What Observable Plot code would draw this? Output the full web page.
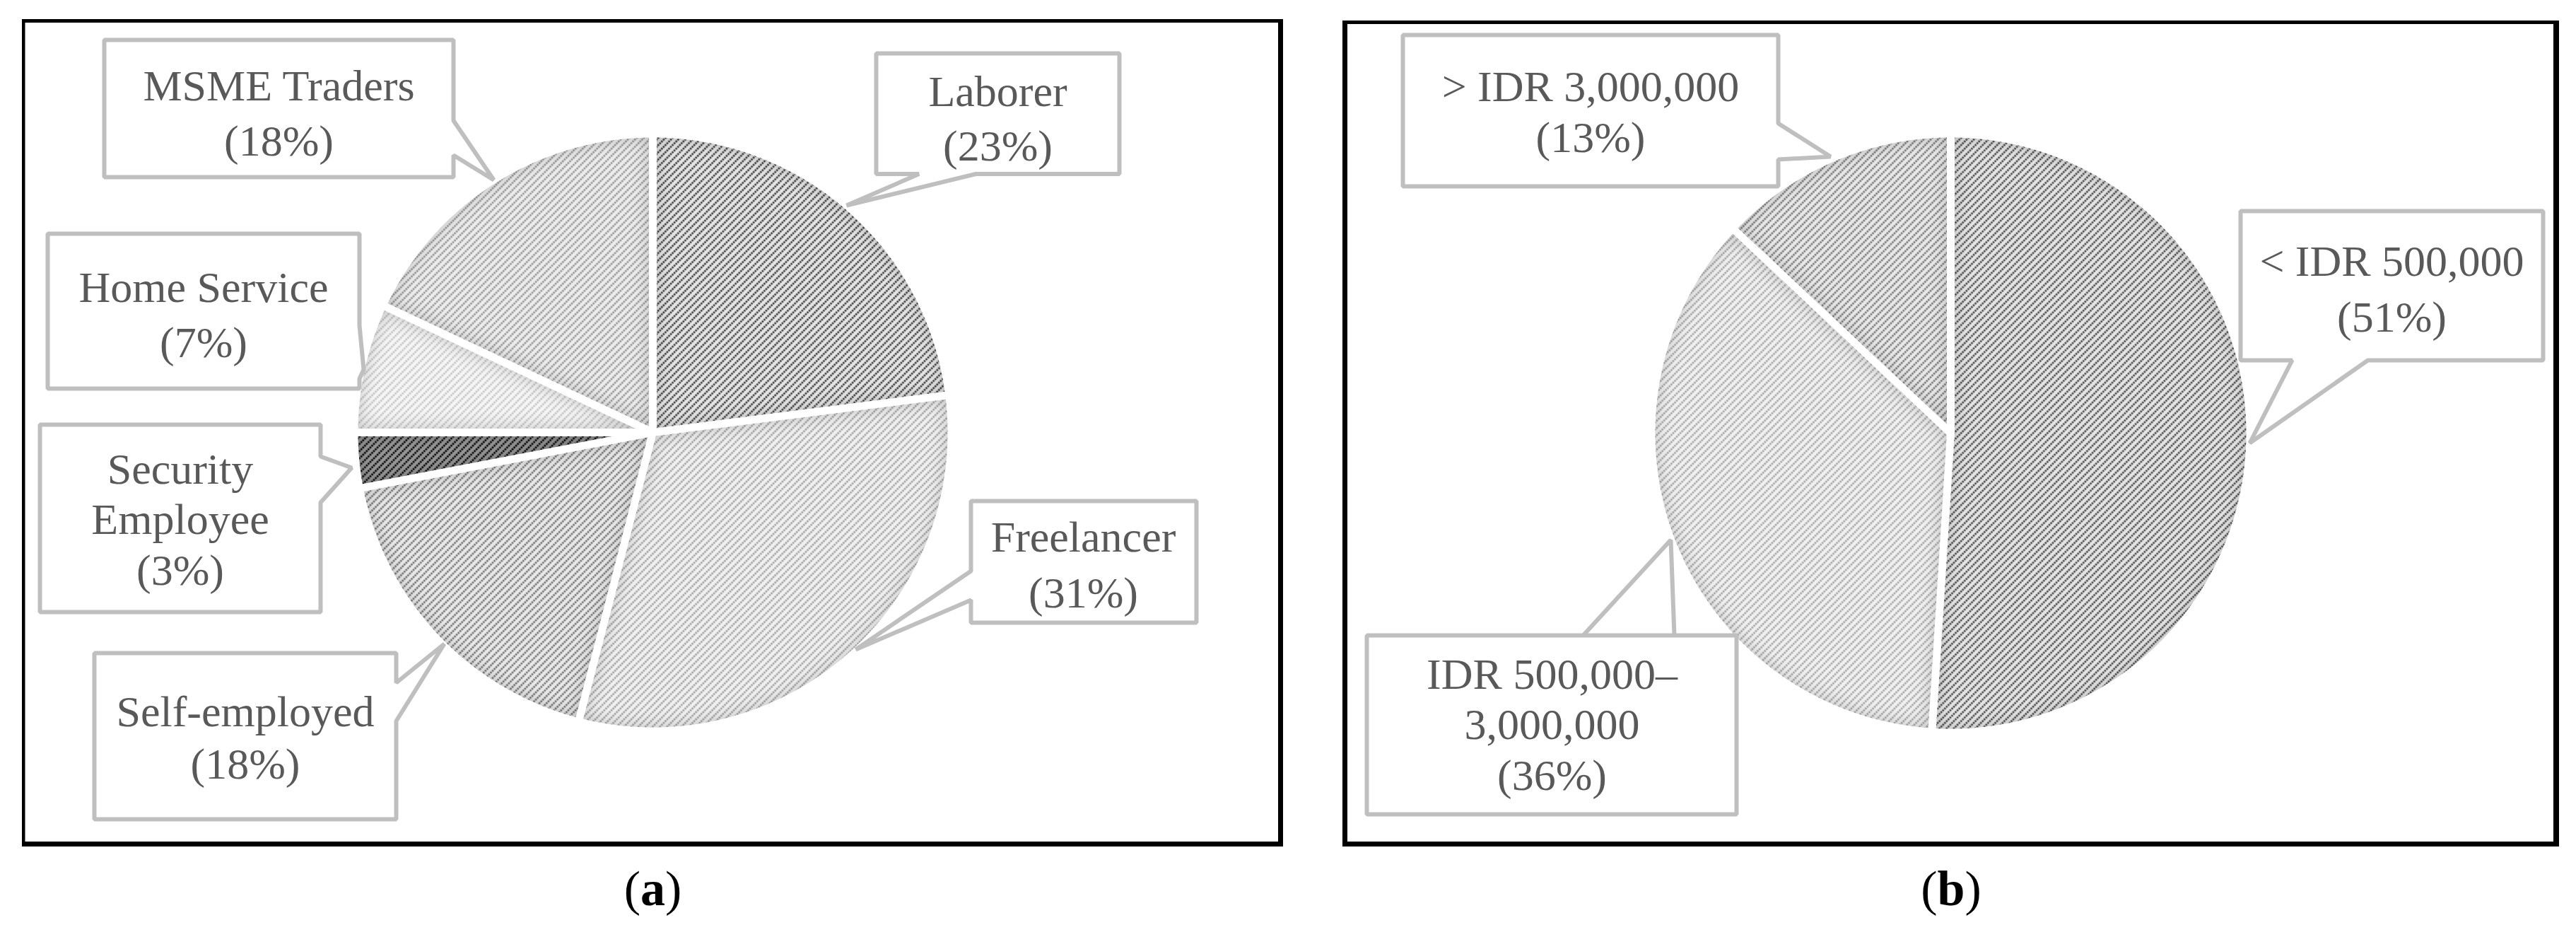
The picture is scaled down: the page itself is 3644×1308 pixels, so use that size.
<!DOCTYPE html>
<html>
<head>
<meta charset="utf-8">
<script src="https://cdn.jsdelivr.net/npm/d3@7"></script>
<script src="https://cdn.jsdelivr.net/npm/@observablehq/plot@0.6"></script>
<style>
  html, body { margin: 0; padding: 0; background: #fff; }
  #chart svg { display: block; }
</style>
</head>
<body>
<div id="chart"></div>
<script>
// ---------------- DATA ----------------
const occupations = ["Laborer", "Freelancer", "Self-employed", "Security Employee", "Home Service", "MSME Traders"];
const occupationShares = [23, 31, 18, 3, 7, 18];
const incomeGroups = ["< IDR 500,000", "IDR 500,000–3,000,000", "> IDR 3,000,000"];
const incomeShares = [51, 36, 13];
const panelLetters = ["a", "b"];

// ---------------- LAYOUT / STYLE ----------------
const W = 3644, H = 1308;
const FONT = "'Liberation Serif', 'Times New Roman', Times, serif";
const LABEL_SIZE = 62;
const panels = [
  {x0: 31, y0: 27, x1: 1815, y1: 1197, cx: 923, cy: 611, r: 417, inset: {t: 5, r: 7, b: 7, l: 4.5}},
  {x0: 1899, y0: 29, x1: 3620, y1: 1197, cx: 2759, cy: 612, r: 418, inset: {t: 5, r: 8, b: 7, l: 7}}
];
const captionBaseline = 1279;
const sliceGap = 11;

// pattern styles (stripe colour, background colour) per slice, in category order
const stylesA = [
  {stripe: "#4a4a4a", bg: "#e4e4e4"},
  {stripe: "#a8a8a8", bg: "#f0f0f0"},
  {stripe: "#7c7c7c", bg: "#e8e8e8"},
  {stripe: "#151515", bg: "#969696"},
  {stripe: "#c8c8c8", bg: "#f5f5f5"},
  {stripe: "#9c9c9c", bg: "#ececec"}
];
const stylesB = [
  {stripe: "#555555", bg: "#e4e4e4"},
  {stripe: "#ababab", bg: "#f0f0f0"},
  {stripe: "#808080", bg: "#e8e8e8"}
];

// callout boxes (box = [x0,y0,x1,y1]), pointer wedge, text anchor (centre x, last baseline, line height)
const calloutsA = [
  {box: [1239, 75, 1583, 245.5], side: "bottom", base: [1299.5, 1380], tip: [1197, 290], tx: 1411, ty: 226, lh: 76.5},
  {box: [1373, 708, 1692, 880], side: "left", base: [807, 848], tip: [1210, 918], tx: 1532, ty: 858, lh: 78.5},
  {box: [133, 923, 560, 1158], side: "right", base: [965, 1019], tip: [628, 910], tx: 346.5, ty: 1100, lh: 74},
  {box: [56, 600, 453, 865], side: "right", base: [645, 710], tip: [497, 661], tx: 254.5, ty: 826, lh: 71.5, brk: " "},
  {box: [67, 330, 508, 549], side: "right", base: [460, 535], tip: [514, 522], tx: 287.5, ty: 504.5, lh: 78},
  {box: [147, 56, 641, 250], side: "right", base: [170, 219], tip: [698, 254], tx: 394, ty: 219, lh: 78}
];
const calloutsB = [
  {box: [3169, 298, 3597, 509], side: "bottom", base: [3242, 3349], tip: [3182, 626], tx: 3383, ty: 468, lh: 79},
  {box: [1933, 898, 2456, 1151], side: "top", base: [2239, 2368], tip: [2363, 763], tx: 2195, ty: 1116, lh: 71.5, brk: "–"},
  {box: [1984, 49, 2515, 263], side: "right", base: [174, 225], tip: [2589, 221], tx: 2249.5, ty: 214, lh: 71.5}
];

// ---------------- GEOMETRY ----------------
function slicePoints(cx, cy, r, a0, a1, gap) {
  const half = (a1 - a0) / 2, mid = (a0 + a1) / 2, h = gap / 2;
  const P = (rad, ang) => [cx + rad * Math.sin(ang), cy - rad * Math.cos(ang)];
  const d = h / Math.sin(half);
  const delta = Math.asin(h / r);
  const s = a0 + delta, e = a1 - delta;
  const n = Math.max(2, Math.ceil((e - s) / (Math.PI / 360)));
  const pts = [P(d, mid)];
  for (let i = 0; i <= n; i++) pts.push(P(r, s + (e - s) * i / n));
  pts.push(P(d, mid));
  return pts;
}
function calloutPoints(c) {
  const [x0, y0, x1, y1] = c.box, [b1, b2] = c.base, t = c.tip, mx = (x0 + x1) / 2;
  let p;
  switch (c.side) {
    case "right": p = [[mx, y0], [x1, y0], [x1, b1], t, [x1, b2], [x1, y1], [x0, y1], [x0, y0]]; break;
    case "left": p = [[mx, y0], [x1, y0], [x1, y1], [x0, y1], [x0, b2], t, [x0, b1], [x0, y0]]; break;
    case "bottom": p = [[mx, y0], [x1, y0], [x1, y1], [b2, y1], t, [b1, y1], [x0, y1], [x0, y0]]; break;
    case "top": p = [[mx, y0], [x1, y0], [x1, y1], [x0, y1], [x0, y0], [b1, y0], t, [b2, y0]]; break;
  }
  p.push(p[0]);
  return p;
}

const pies = [
  {names: occupations, values: occupationShares, styles: stylesA, callouts: calloutsA},
  {names: incomeGroups, values: incomeShares, styles: stylesB, callouts: calloutsB}
];

const sliceRows = [], calloutRows = [], labelMarks = [];
pies.forEach((pie, pi) => {
  const P = panels[pi];
  const arcs = d3.pie().sort(null).value(d => d)(pie.values);
  arcs.forEach((a, i) => {
    const key = `p${pi}-${i}`;
    for (const [x, y] of slicePoints(P.cx, P.cy, P.r, a.startAngle, a.endAngle, sliceGap))
      sliceRows.push({key, x, y, fill: `url(#pat-${key})`});
    const c = pie.callouts[i];
    for (const [x, y] of calloutPoints(c)) calloutRows.push({key, x, y});
    let name = pie.names[i];
    if (c.brk) name = name.replace(c.brk, c.brk.trim() + "\n");
    labelMarks.push(Plot.text([{x: c.tx, y: c.ty, t: `${name}\n(${pie.values[i]}%)`}], {
      x: "x", y: "y", text: "t", textAnchor: "middle", lineAnchor: "bottom",
      lineHeight: c.lh / LABEL_SIZE, fontSize: LABEL_SIZE, fontFamily: FONT, fill: "#595959"
    }));
  });
});

const svg = Plot.plot({
  width: W, height: H,
  margin: 0,
  x: {domain: [0, W], range: [0, W], axis: null},
  y: {domain: [0, H], range: [0, H], axis: null},
  color: {type: "identity"},
  style: "background:#fff;max-width:none;overflow:visible;",
  marks: [
    Plot.rect(panels, {x1: "x0", x2: "x1", y1: "y0", y2: "y1", fill: "#000"}),
    Plot.rect(panels, {x1: d => d.x0 + d.inset.l, x2: d => d.x1 - d.inset.r, y1: d => d.y0 + d.inset.t, y2: d => d.y1 - d.inset.b, fill: "#fff"}),
    Plot.line(sliceRows, {x: "x", y: "y", z: "key", fill: "fill", stroke: "none", curve: "linear"}),
    Plot.line(calloutRows, {x: "x", y: "y", z: "key", fill: "#fff", stroke: "#bfbfbf", strokeWidth: 6, strokeLinejoin: "miter", curve: "linear"}),
    ...labelMarks,
    Plot.text(panels, {x: d => (d.x0 + d.x1) / 2, y: () => captionBaseline, text: (d, i) => `(${panelLetters[i]})`,
      textAnchor: "middle", lineAnchor: "bottom", fontSize: 70, fontFamily: FONT, fill: "#000"})
  ]
});

// patterns and soft inner shading
const defs = d3.select(svg).insert("defs", ":first-child");
pies.forEach((pie, pi) => {
  pie.styles.forEach((s, i) => {
    const pat = defs.append("pattern")
      .attr("id", `pat-p${pi}-${i}`)
      .attr("patternUnits", "userSpaceOnUse")
      .attr("width", 7.2).attr("height", 7.2)
      .attr("patternTransform", "rotate(45)");
    pat.append("rect").attr("width", 7.2).attr("height", 7.2).attr("fill", s.bg);
    pat.append("line").attr("x1", 3.6).attr("x2", 3.6).attr("y1", 0).attr("y2", 7.2)
      .attr("stroke", s.stripe).attr("stroke-width", 2.7).attr("stroke-dasharray", "2.6 1");
  });
});
const f = defs.append("filter").attr("id", "innerShade")
  .attr("x", "-5%").attr("y", "-5%").attr("width", "110%").attr("height", "110%");
f.append("feGaussianBlur").attr("in", "SourceAlpha").attr("stdDeviation", 12).attr("result", "blur");
f.append("feComposite").attr("in", "SourceAlpha").attr("in2", "blur").attr("operator", "out").attr("result", "edge");
f.append("feFlood").attr("flood-color", "#000").attr("flood-opacity", 0.4).attr("result", "col");
f.append("feComposite").attr("in", "col").attr("in2", "edge").attr("operator", "in").attr("result", "shade");
const m = f.append("feMerge");
m.append("feMergeNode").attr("in", "SourceGraphic");
m.append("feMergeNode").attr("in", "shade");
d3.select(svg).selectAll("path").filter(function () {
  const fl = this.getAttribute("fill") || "";
  return fl.startsWith("url(#pat");
}).attr("filter", "url(#innerShade)");

// captions: bold letter inside plain parentheses
d3.select(svg).selectAll("text").each(function () {
  const t = this.textContent;
  const mm = /^\((\w)\)$/.exec(t);
  if (mm) {
    this.textContent = "";
    const s = d3.select(this);
    s.append("tspan").text("(");
    s.append("tspan").attr("font-weight", "bold").text(mm[1]);
    s.append("tspan").text(")");
  }
});

document.getElementById("chart").appendChild(svg);
</script>
</body>
</html>
